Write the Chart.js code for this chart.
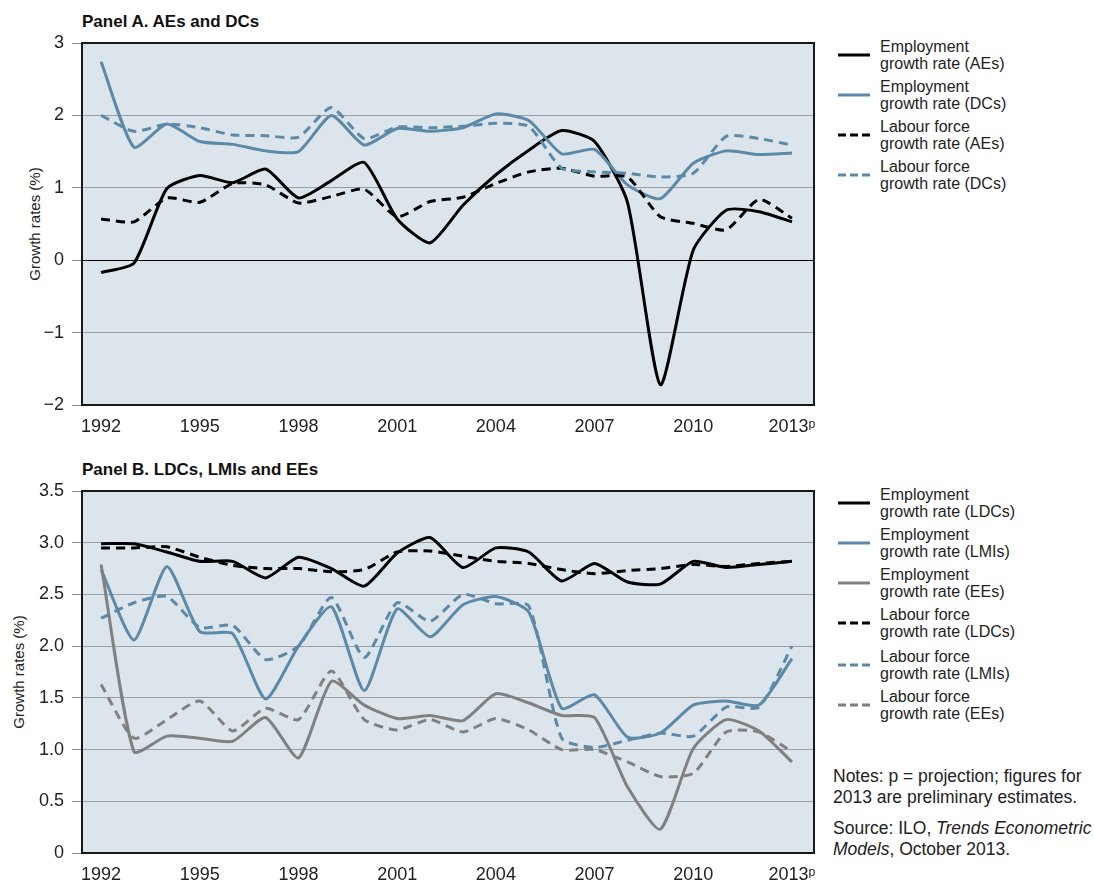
<!DOCTYPE html>
<html>
<head>
<meta charset="utf-8">
<script src="https://cdn.jsdelivr.net/npm/chart.js@4.4.1/dist/chart.umd.min.js"></script>
<style>
  body { margin: 0; background: #fff; font-family: "Liberation Sans", Arial, sans-serif; color: #222; }
  #page { position: relative; width: 1094px; height: 883px; overflow: hidden; }
  .panel { position: absolute; left: 0; }
  .title { position: absolute; left: 82px; font-weight: bold; font-size: 17px; line-height: 18px; color: #111; }
  .ytitle { position: absolute; width: 200px; text-align: center; font-size: 15px; line-height: 16px; transform: rotate(-90deg); color: #222; }
  .item { position: absolute; left: 880px; font-size: 16px; line-height: 17px; color: #222; }
  .sample { position: absolute; left: 838px; }
  .notes { position: absolute; left: 833px; font-size: 17.5px; line-height: 20.5px; color: #222; }
</style>
</head>
<body>
<div id="page">
  <div class="title" style="top:13px">Panel A. AEs and DCs</div>
  <div class="title" style="top:461px">Panel B. LDCs, LMIs and EEs</div>
  <div class="ytitle" style="top:216px; left:-65px">Growth rates (%)</div>
  <div class="ytitle" style="top:664px; left:-81px">Growth rates (%)</div>
  <canvas id="chartA" class="panel" style="top:0" width="830" height="445"></canvas>
  <canvas id="chartB" class="panel" style="top:448px" width="830" height="435"></canvas>
  <div id="legendA"></div>
  <div id="legendB"></div>
  <div class="notes" style="top:766px">Notes: p = projection; figures for<br>2013 are preliminary estimates.</div>
  <div class="notes" style="top:818px">Source: ILO, <i>Trends Econometric<br>Models</i>, October 2013.</div>
</div>
<script>
// Data
const years = [1992, 1993, 1994, 1995, 1996, 1997, 1998, 1999, 2000, 2001, 2002,
               2003, 2004, 2005, 2006, 2007, 2008, 2009, 2010, 2011, 2012, 2013];
const yearTicks = [1992, 1995, 1998, 2001, 2004, 2007, 2010, 2013];
const yearTickLabels = ['1992', '1995', '1998', '2001', '2004', '2007', '2010', '2013\u1D56'];

// Panel A
const empAEs = [-0.17, -0.04, 0.99, 1.17, 1.07, 1.26, 0.86, 1.10, 1.35, 0.57, 0.24, 0.76, 1.18, 1.52, 1.79, 1.64, 0.80, -1.72, 0.14, 0.69, 0.67, 0.53];
const empDCs = [2.74, 1.56, 1.88, 1.64, 1.60, 1.51, 1.50, 2.00, 1.59, 1.82, 1.78, 1.83, 2.02, 1.93, 1.47, 1.53, 1.04, 0.85, 1.34, 1.51, 1.46, 1.48];
const lfAEs = [0.57, 0.53, 0.86, 0.80, 1.06, 1.04, 0.79, 0.88, 0.98, 0.60, 0.81, 0.87, 1.06, 1.22, 1.27, 1.16, 1.15, 0.60, 0.51, 0.42, 0.84, 0.58];
const lfDCs = [2.00, 1.78, 1.88, 1.83, 1.73, 1.72, 1.70, 2.11, 1.68, 1.84, 1.83, 1.85, 1.89, 1.85, 1.27, 1.22, 1.20, 1.15, 1.20, 1.71, 1.68, 1.59];

// Panel B
const empLDCs = [2.99, 2.99, 2.91, 2.82, 2.82, 2.66, 2.86, 2.75, 2.58, 2.90, 3.05, 2.76, 2.95, 2.91, 2.63, 2.80, 2.62, 2.60, 2.82, 2.76, 2.79, 2.82];
const empLMIs = [2.74, 2.06, 2.77, 2.14, 2.12, 1.49, 2.00, 2.38, 1.57, 2.36, 2.09, 2.40, 2.48, 2.33, 1.40, 1.53, 1.12, 1.16, 1.43, 1.47, 1.43, 1.88];
const empEEs = [2.79, 0.98, 1.13, 1.11, 1.08, 1.31, 0.92, 1.66, 1.43, 1.30, 1.33, 1.28, 1.54, 1.45, 1.33, 1.31, 0.64, 0.23, 1.01, 1.29, 1.18, 0.88];
const lfLDCs = [2.95, 2.95, 2.96, 2.86, 2.78, 2.75, 2.75, 2.72, 2.74, 2.91, 2.92, 2.87, 2.82, 2.80, 2.74, 2.70, 2.73, 2.75, 2.79, 2.77, 2.80, 2.82];
const lfLMIs = [2.27, 2.42, 2.48, 2.18, 2.20, 1.87, 2.00, 2.47, 1.89, 2.42, 2.24, 2.50, 2.41, 2.39, 1.11, 1.02, 1.09, 1.16, 1.13, 1.41, 1.41, 2.00];
const lfEEs = [1.63, 1.11, 1.29, 1.47, 1.18, 1.40, 1.29, 1.76, 1.29, 1.19, 1.29, 1.17, 1.30, 1.19, 1.00, 1.00, 0.88, 0.74, 0.77, 1.17, 1.17, 0.98];

const BLACK = '#000000';
const BLUE = '#5b89a7';
const GREY = '#808080';
const DASH = [9, 6];

const seriesA = [
    { label: ['Employment', 'growth rate (AEs)'], data: empAEs, color: BLACK, dash: false },
    { label: ['Employment', 'growth rate (DCs)'], data: empDCs, color: BLUE, dash: false },
    { label: ['Labour force', 'growth rate (AEs)'], data: lfAEs, color: BLACK, dash: true },
    { label: ['Labour force', 'growth rate (DCs)'], data: lfDCs, color: BLUE, dash: true }
];
const seriesB = [
    { label: ['Employment', 'growth rate (LDCs)'], data: empLDCs, color: BLACK, dash: false },
    { label: ['Employment', 'growth rate (LMIs)'], data: empLMIs, color: BLUE, dash: false },
    { label: ['Employment', 'growth rate (EEs)'], data: empEEs, color: GREY, dash: false },
    { label: ['Labour force', 'growth rate (LDCs)'], data: lfLDCs, color: BLACK, dash: true },
    { label: ['Labour force', 'growth rate (LMIs)'], data: lfLMIs, color: BLUE, dash: true },
    { label: ['Labour force', 'growth rate (EEs)'], data: lfEEs, color: GREY, dash: true }
];

// plot background + frame
const framePlugin = {
    id: 'frame',
    beforeDraw(chart) {
        const { ctx, chartArea: a } = chart;
        ctx.save();
        ctx.fillStyle = '#dde5ec';
        ctx.fillRect(a.left, a.top, a.right - a.left, a.bottom - a.top);
        ctx.restore();
    },
    afterDraw(chart) {
        const { ctx, chartArea: a } = chart;
        ctx.save();
        ctx.strokeStyle = '#1a1a1a';
        ctx.lineWidth = 2;
        ctx.strokeRect(a.left, a.top, a.right - a.left, a.bottom - a.top);
        ctx.restore();
    }
};

function makeDatasets(series) {
    return series.map(s => ({
        label: s.label.join(' '),
        data: years.map((yr, i) => ({ x: yr, y: s.data[i] })),
        borderColor: s.color,
        borderWidth: 3,
        borderDash: s.dash ? DASH : [],
        pointRadius: 0,
        tension: 0.2,
        fill: false
    })).reverse();
}

function makeChart(canvasId, series, yOpts, padTop, xHeight) {
    const ctx = document.getElementById(canvasId).getContext('2d');
    return new Chart(ctx, {
        type: 'line',
        data: { datasets: makeDatasets(series) },
        options: {
            responsive: false,
            animation: false,
            layout: { padding: { top: padTop, right: 16, left: 0, bottom: 0 } },
            plugins: { legend: { display: false }, tooltip: { enabled: false } },
            scales: {
                x: {
                    type: 'linear',
                    min: 1991.42,
                    max: 2013.67,
                    afterBuildTicks: s => { s.ticks = yearTicks.map(v => ({ value: v })); },
                    afterFit: s => { s.height = xHeight; },
                    grid: { display: false },
                    border: { display: false },
                    ticks: {
                        color: '#222',
                        font: { family: 'Liberation Sans', size: 18 },
                        padding: 3,
                        maxRotation: 0,
                        autoSkip: false,
                        callback: v => yearTickLabels[yearTicks.indexOf(v)]
                    }
                },
                y: Object.assign({
                    afterFit: s => { s.width = 82; },
                    border: { display: false },
                    grid: {
                        color: c => (c.tick && c.tick.value === 0 && yOpts.min < 0) ? '#000' : '#9a9fa5',
                        lineWidth: 1,
                        tickLength: 10,
                        tickColor: '#888'
                    }
                }, yOpts)
            }
        },
        plugins: [framePlugin]
    });
}

makeChart('chartA', seriesA, {
    min: -2, max: 3,
    ticks: {
        stepSize: 1, color: '#222', padding: 8,
        font: { family: 'Liberation Sans', size: 18 },
        callback: v => (v < 0 ? '\u2212' + Math.abs(v) : String(v))
    }
}, 43, 40);

makeChart('chartB', seriesB, {
    min: 0, max: 3.5,
    ticks: {
        stepSize: 0.5, color: '#222', padding: 8,
        font: { family: 'Liberation Sans', size: 18 },
        callback: v => (v === 0 ? '0' : v.toFixed(1))
    }
}, 43, 30);

// HTML legends (two-line labels)
function buildLegend(el, series, top0, offsets) {
    let html = '';
    series.forEach((s, i) => {
        const top = top0 + offsets[i];
        const dash = s.dash ? 'stroke-dasharray="8,4"' : '';
        html += `<svg class="sample" style="top:${top + 15}px" width="32" height="4">
                   <line x1="0" y1="2" x2="32" y2="2" stroke="${s.color}" stroke-width="3" ${dash}/></svg>`;
        html += `<div class="item" style="top:${top}px">${s.label[0]}<br>${s.label[1]}</div>`;
    });
    document.getElementById(el).innerHTML = html;
}
buildLegend('legendA', seriesA, 38, [0, 40, 80, 120]);
buildLegend('legendB', seriesB, 486, [0, 40, 80, 120, 162, 202]);
</script>
</body>
</html>
